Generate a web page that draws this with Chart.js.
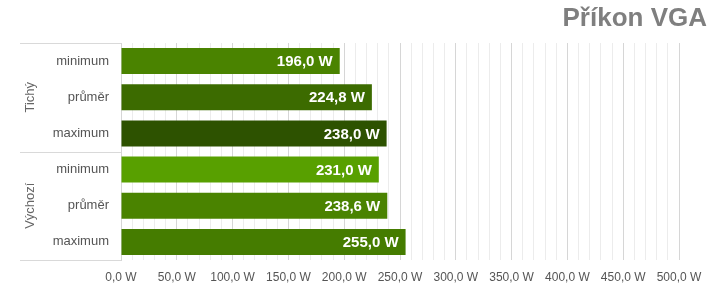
<!DOCTYPE html>
<html><head><meta charset="utf-8">
<script src="https://cdn.jsdelivr.net/npm/chart.js@4/dist/chart.umd.min.js"></script>
<style>html,body{margin:0;padding:0;background:#fff}#w{width:720px;height:285px}</style>
</head><body><div id="w"><canvas id="c"></canvas></div>
<script>
const categories = ["minimum","průměr","maximum","minimum","průměr","maximum"];
const groups = ["Tichý","Výchozí"];
const values = [196.0, 224.8, 238.0, 231.0, 238.6, 255.0];
const barColors = ["#4a8300","#3c6b00","#2d5200","#58a000","#4a8300","#457c00"];
const xTicks = [0,50,100,150,200,250,300,350,400,450,500];
const title = "Příkon VGA";

const fmt = v => v.toFixed(1).replace('.', ',') + ' W';
const FONT = '"Liberation Sans", Arial, sans-serif';

const deco = {
  id: 'deco',
  afterDatasetsDraw(chart) {
    const ctx = chart.ctx;
    ctx.save();
    const meta = chart.getDatasetMeta(0);
    ctx.font = 'bold 15px ' + FONT;
    ctx.fillStyle = '#fff';
    ctx.textAlign = 'right';
    ctx.textBaseline = 'middle';
    meta.data.forEach((bar, i) => {
      ctx.fillText(fmt(values[i]), bar.x - 7, bar.y + 1);
    });
    ctx.restore();
  },
  afterDraw(chart) {
    const ctx = chart.ctx, ca = chart.chartArea, y = chart.scales.y;
    ctx.save();
    ctx.strokeStyle = '#d9d9d9';
    ctx.lineWidth = 1;
    const mid = (y.getPixelForValue(2) + y.getPixelForValue(3)) / 2;
    [ca.top, mid, ca.bottom].forEach(py => {
      ctx.beginPath();
      ctx.moveTo(20, Math.round(py) + 0.5);
      ctx.lineTo(ca.left, Math.round(py) + 0.5);
      ctx.stroke();
    });
    ctx.fillStyle = '#666';
    ctx.font = '13px ' + FONT;
    ctx.textAlign = 'center';
    ctx.textBaseline = 'middle';
    groups.forEach((g, gi) => {
      const py = y.getPixelForValue(gi * 3 + 1);
      ctx.save();
      ctx.translate(30, py);
      ctx.rotate(-Math.PI / 2);
      ctx.fillText(g, 0, 0);
      ctx.restore();
    });
    ctx.fillStyle = '#7f7f7f';
    ctx.font = 'bold 26px ' + FONT;
    ctx.textAlign = 'right';
    ctx.textBaseline = 'middle';
    ctx.fillText(title, 707, 19);
    ctx.restore();
  }
};

new Chart(document.getElementById('c'), {
  type: 'bar',
  data: {
    labels: categories,
    datasets: [{ data: values, backgroundColor: barColors, borderWidth: 0,
      barPercentage: 0.9, categoryPercentage: 0.8 }]
  },
  options: {
    indexAxis: 'y',
    responsive: true,
    maintainAspectRatio: false,
    animation: false,
    layout: { padding: { top: 43, right: 41, left: 0, bottom: 0 } },
    plugins: { legend: { display: false }, tooltip: { enabled: false }, title: { display: false } },
    scales: {
      x: {
        min: 0, max: 500,
        afterBuildTicks(scale) {
          const t = [];
          for (let v = 0; v <= 500; v += 10) t.push({ value: v });
          scale.ticks = t;
        },
        afterFit(scale) { scale.height = 25; },
        ticks: {
          autoSkip: false, maxRotation: 0,
          color: '#555',
          font: { family: FONT, size: 12 },
          padding: 10,
          callback: (v) => xTicks.includes(v) ? fmt(v) : ''
        },
        grid: {
          color: (c) => (c.tick && c.tick.value % 50 === 0) ? '#d6d6d6' : '#ececec',
          drawTicks: false,
          lineWidth: 1
        },
        border: { display: false }
      },
      y: {
        afterFit(scale) { scale.width = 121; },
        ticks: {
          color: '#555',
          font: { family: FONT, size: 13 },
          padding: 12
        },
        grid: { display: false, drawTicks: false },
        border: { display: true, color: '#d6d6d6' }
      }
    }
  },
  plugins: [deco]
});
</script>
</body></html>
